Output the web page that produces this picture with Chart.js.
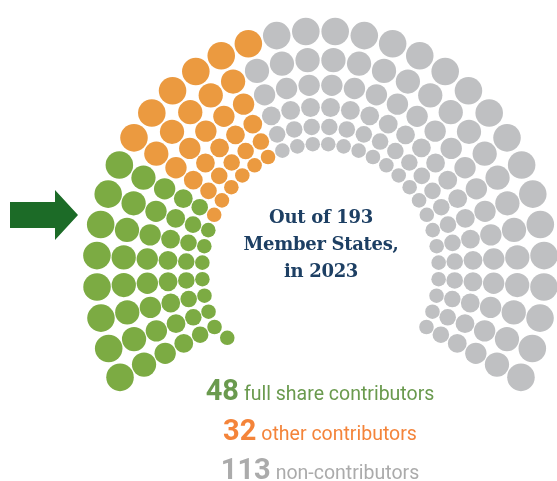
<!DOCTYPE html>
<html>
<head>
<meta charset="utf-8">
<script src="https://cdn.jsdelivr.net/npm/chart.js@4"></script>
<style>
  html, body { margin: 0; padding: 0; background: #fff; }
  #wrap { position: relative; width: 557px; height: 481px; overflow: hidden; }
  #chart { position: absolute; left: 0; top: 0; }
  .titre { position: absolute; left: 220px; width: 202px; text-align: center; top: 203px;
    font-family: "DejaVu Serif", serif; font-weight: bold; font-size: 18px; line-height: 27px;
    color: #1d3f63; letter-spacing: -0.3px; }
  .leg { position: absolute; left: 0; width: 640px; text-align: center; font-family: Roboto, sans-serif;
    line-height: 28px; white-space: nowrap; }
  .leg b { font-size: 29px; font-weight: 700; margin-right: 5px; }
  .leg span { font-size: 19.5px; }
</style>
</head>
<body>
<div id="wrap">
  <canvas id="chart" width="557" height="481"></canvas>
  <div class="titre">Out of 193<br>Member States,<br>in 2023</div>
  <div class="leg" style="top:376px;color:#6a9a4e"><b>48</b><span>full share contributors</span></div>
  <div class="leg" style="top:416px;color:#f4843a"><b>32</b><span>other contributors</span></div>
  <div class="leg" style="top:455px;color:#ababab"><b>113</b><span>non-contributors</span></div>
</div>
<script>
// categories and totals
var categories = ["full share contributors", "other contributors", "non-contributors"];
var totals = [48, 32, 113];
var dotColors = ["#7cab43", "#eb9a40", "#bfc0c2"];

// seats per arc, outer arc first (6 arcs of 32 seats)
var fullShareRow = [8, 8, 8, 8, 8, 7];
var otherRow = [6, 5, 5, 5, 5, 6];
var nonRow = [18, 19, 19, 19, 19, 19];
// one more full share seat left over, before the first seat of the inner arc
var extraFullShare = 1;

// layout of the hemicycle
var arcStart = 206.5, arcEnd = -26.5;
var radiusRatio = 1.136;
var dotSize = 0.0615; // dot radius relative to arc radius
var pxPerUnit = 224;

function seats(){
    var pts = [];
    for (var k = 0; k < fullShareRow.length; k++) {
        var n = fullShareRow[k] + otherRow[k] + nonRow[k];
        var r = 1 / Math.pow(radiusRatio, k);
        var step = (arcStart - arcEnd) / (n - 1);
        for (var i = 0; i < n; i++) {
            var a = (arcStart - step * i) * Math.PI / 180;
            var c = 2;
            if (i < fullShareRow[k]) c = 0;
            else if (i < fullShareRow[k] + otherRow[k]) c = 1;
            pts.push({x: r * Math.cos(a), y: r * Math.sin(a), r: r, c: c});
        }
        if (k == fullShareRow.length - 1) {
            // extra seat one step before the inner arc
            for (var e = 1; e <= extraFullShare; e++) {
                var ae = (arcStart + step * e) * Math.PI / 180;
                var re = r * 0.95;
                pts.push({x: re * Math.cos(ae), y: re * Math.sin(ae), r: r, c: 0});
            }
        }
    }
    return pts;
}

// arrow on the left
var arrowPlugin = {
    id: "fleche",
    afterDraw: function(chart){
        var ctx = chart.ctx;
        ctx.save();
        ctx.fillStyle = "#1c6b27";
        ctx.beginPath();
        ctx.moveTo(10, 202);
        ctx.lineTo(55, 202);
        ctx.lineTo(55, 190);
        ctx.lineTo(78, 215);
        ctx.lineTo(55, 240);
        ctx.lineTo(55, 228);
        ctx.lineTo(10, 228);
        ctx.closePath();
        ctx.fill();
        ctx.restore();
    }
};

var data = seats();
var ctx = document.getElementById("chart").getContext("2d");
var chart = new Chart(ctx, {
    type: "scatter",
    data: {
        datasets: [{
            label: categories.join(", "),
            data: data,
            clip: false,
            pointRadius: function(c){ return c.raw ? c.raw.r * dotSize * pxPerUnit : 0; },
            pointHoverRadius: function(c){ return c.raw ? c.raw.r * dotSize * pxPerUnit : 0; },
            pointBackgroundColor: function(c){ return c.raw ? dotColors[c.raw.c] : "#000"; },
            pointBorderWidth: 0,
            borderWidth: 0
        }]
    },
    options: {
        responsive: false,
        animation: false,
        layout: { padding: 0, autoPadding: false },
        scales: {
            x: { type: "linear", display: false, min: -320.5 / 224, max: 236.5 / 224 },
            y: { type: "linear", display: false, min: -210.5 / 239.5, max: 270.5 / 239.5 }
        },
        plugins: { legend: { display: false }, tooltip: { enabled: false } }
    },
    plugins: [arrowPlugin]
});
</script>
</body>
</html>
